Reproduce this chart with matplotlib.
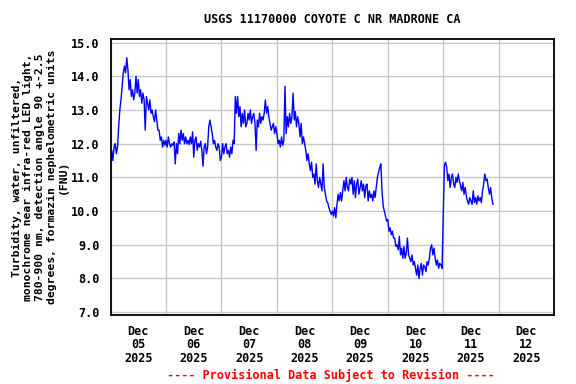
import matplotlib
matplotlib.use('Agg')
import matplotlib.pyplot as plt
import matplotlib.dates as mdates
from datetime import datetime, timedelta

title = 'USGS 11170000 COYOTE C NR MADRONE CA'
ylabel = ('Turbidity, water, unfiltered,\n'
          'monochrome near infra-red LED light,\n'
          '780-900 nm, detection angle 90 +-2.5\n'
          'degrees, formazin nephelometric units\n'
          '(FNU)')
footer = '---- Provisional Data Subject to Revision ----'

start = datetime(2025, 12, 5)
step_min = 30
y_ticks = [7.0, 8.0, 9.0, 10.0, 11.0, 12.0, 13.0, 14.0, 15.0]

# half-hourly turbidity (FNU), one row = 6 hours
dec05 = [11.4, 11.8, 11.5, 11.9, 12.0, 11.7, 11.9, 12.5, 13.0, 13.3, 13.7, 14.1,
         14.3, 14.1, 14.55, 14.2, 13.6, 13.9, 13.4, 13.6, 13.3, 13.5, 14.0, 13.5,
         13.9, 13.4, 13.6, 13.2, 13.5, 13.3, 12.4, 13.4, 13.2, 13.0, 13.3, 12.9,
         13.0, 12.8, 12.65, 13.0, 12.7, 12.4, 12.4, 12.1, 12.2, 11.9, 12.1, 11.95]
dec06 = [12.1, 11.9, 12.2, 12.0, 11.9, 12.0, 11.95, 12.05, 11.4, 12.0, 11.7, 12.3,
         12.0, 12.4, 12.1, 12.3, 12.0, 12.2, 12.0, 12.1, 11.97, 12.2, 12.0, 12.35,
         11.6, 12.1, 12.2, 11.8, 12.0, 11.9, 12.07, 11.8, 11.33, 11.9, 12.0, 11.7,
         11.9, 12.5, 12.7, 12.5, 12.3, 12.0, 12.1, 11.9, 11.8, 12.0, 11.9, 11.5]
dec07 = [11.6, 12.0, 11.7, 11.9, 12.0, 11.7, 11.8, 11.6, 11.9, 11.7, 12.1, 12.0,
         13.4, 12.9, 13.4, 12.8, 13.1, 12.5, 12.9, 12.6, 13.0, 12.5, 12.6, 12.9,
         12.7, 13.0, 12.6, 12.8, 12.9, 12.6, 11.8, 12.7, 12.5, 12.9, 12.6, 12.8,
         12.7, 12.9, 13.3, 12.9, 13.1, 12.8, 12.6, 12.4, 12.5, 12.6, 12.3, 12.5]
dec08 = [12.3, 12.0, 12.1, 11.9, 12.2, 11.95, 12.1, 13.7, 12.3, 12.8, 12.5, 12.9,
         12.6, 12.8, 13.5, 12.7, 12.95, 12.5, 12.8, 12.6, 12.2, 12.6, 12.0, 12.2,
         12.0, 11.8, 11.5, 11.7, 11.4, 11.2, 11.45, 11.0, 11.1, 10.8, 11.4, 10.9,
         10.7, 11.0, 10.8, 10.6, 11.4, 10.7, 10.5, 10.3, 10.25, 10.1, 10.0, 9.9]
dec09 = [10.0, 9.85, 10.1, 9.8, 10.2, 10.5, 10.3, 10.55, 10.3, 10.6, 10.9, 10.6,
         11.0, 10.7, 10.6, 10.95, 10.8, 11.0, 10.5, 10.9, 10.4, 10.8, 10.95, 10.5,
         10.7, 10.9, 10.6, 10.8, 10.4, 10.75, 10.8, 10.3, 10.6, 10.4, 10.5, 10.3,
         10.6, 10.4, 10.7, 11.0, 11.15, 11.3, 11.4, 10.6, 10.15, 10.0, 9.85, 9.7]
dec10 = [9.75, 9.4, 9.5, 9.3, 9.4, 9.2, 9.2, 8.95, 9.0, 8.85, 9.25, 8.7,
         8.9, 8.6, 8.95, 8.6, 8.75, 9.2, 8.7, 8.6, 8.5, 8.7, 8.4, 8.5,
         8.3, 8.1, 8.4, 8.0, 8.3, 8.45, 8.1, 8.4, 8.35, 8.2, 8.5, 8.4,
         8.6, 8.9, 9.0, 8.7, 8.9, 8.6, 8.4, 8.55, 8.3, 8.45, 8.4, 8.3]
dec11 = [9.85, 11.35, 11.45, 11.3, 10.9, 11.1, 10.7, 11.0, 11.1, 10.8, 10.7, 11.0,
         10.85, 11.1, 10.9, 10.75, 10.6, 10.85, 10.5, 10.7, 10.45, 10.3, 10.2, 10.4,
         10.3, 10.2, 10.6, 10.25, 10.4, 10.2, 10.45, 10.3, 10.4, 10.25, 10.6, 10.8,
         11.1, 10.9, 10.95, 10.7, 10.5, 10.7, 10.4, 10.2]

fnu = dec05 + dec06 + dec07 + dec08 + dec09 + dec10 + dec11
times = [start + timedelta(minutes=step_min * i) for i in range(len(fnu))]

plt.rcParams['font.family'] = ['DejaVu Sans Mono']
plt.rcParams['font.weight'] = 'bold'

fig = plt.figure(figsize=(5.76, 3.84), dpi=100)
ax = fig.add_axes([0.192, 0.180, 0.770, 0.718])

ax.plot(times, fnu, color='#0000ff', linewidth=1.0)

ax.set_xlim(start, start + timedelta(days=8))
ax.set_ylim(6.92, 15.1)
ax.set_yticks(y_ticks)
ax.yaxis.set_major_formatter(matplotlib.ticker.FormatStrFormatter('%.1f'))

ax.xaxis.set_major_locator(mdates.DayLocator())
ax.xaxis.set_major_formatter(matplotlib.ticker.NullFormatter())
ax.xaxis.set_minor_locator(mdates.HourLocator(byhour=[12]))
ax.xaxis.set_minor_formatter(mdates.DateFormatter('%b\n%d\n%Y'))

ax.grid(True, which='major', color='#c8c8c8', linewidth=1.0)
ax.set_axisbelow(True)
ax.tick_params(axis='both', which='both', length=0, labelsize=8.5)
ax.tick_params(axis='y', pad=8)
ax.tick_params(axis='x', which='minor', pad=7)
for lbl in ax.get_xticklabels(minor=True):
    lbl.set_linespacing(1.05)
for sp in ax.spines.values():
    sp.set_linewidth(1.3)

ax.set_ylabel(ylabel, fontsize=8.2, fontweight='bold', linespacing=1.2, labelpad=2)
fig.text(0.576, 0.948, title, ha='center', va='center', fontsize=8.5, fontweight='bold')
fig.text(0.575, 0.022, footer, ha='center', va='center', fontsize=8.5,
         fontweight='bold', color='#ff0000')

fig.savefig('out.png', dpi=100)
